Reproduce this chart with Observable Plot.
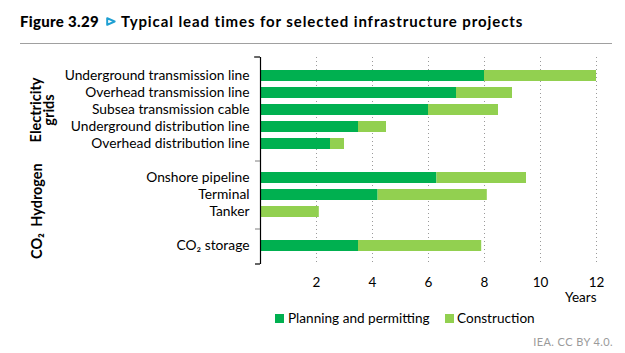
<!DOCTYPE html>
<html>
<head>
<meta charset="utf-8">
<script src="https://cdn.jsdelivr.net/npm/d3@7"></script>
<script src="https://cdn.jsdelivr.net/npm/@observablehq/plot@0.6"></script>
<style>
  html, body { margin: 0; padding: 0; background: #fff; }
  #wrap { position: relative; width: 625px; height: 353px; overflow: hidden; font-family: Lato, "Open Sans", sans-serif; }
  .abs { position: absolute; white-space: nowrap; line-height: 1; }
  #fig { left: 20px; top: 14px; font-size: 15px; font-weight: 900; letter-spacing: 0.3px; color: #000; }
  #tri { left: 106px; top: 17px; width: 10px; height: 9px; }
  #ttl { left: 121px; top: 14px; font-size: 15px; font-weight: 700; letter-spacing: 0.9px; color: #000; }
  #rule { left: 20px; top: 43px; width: 592px; height: 1px; background: #a0a0a0; }
  #chart { position: absolute; left: 0; top: 45px; }
  .sw { position: absolute; width: 9px; height: 9px; }
  .lg { font-size: 13.6px; color: #000; }
  #foot { right: 12px; top: 336px; font-size: 11px; letter-spacing: 0.4px; color: #9a9a9a; }
</style>
</head>
<body>
<div id="wrap">
  <div class="abs" id="fig">Figure 3.29</div>
  <svg class="abs" id="tri" viewBox="0 0 10 9"><polygon points="1.2,1.2 8.6,4.5 1.2,7.8" fill="none" stroke="#1e9fd2" stroke-width="2" stroke-linejoin="round"/></svg>
  <div class="abs" id="ttl">Typical lead times for selected infrastructure projects</div>
  <div class="abs" id="rule"></div>
  <div id="chart"></div>
  <div id="legend"></div>
  <div class="abs" id="foot">IEA. CC BY 4.0.</div>
</div>
<script>
// ---- data ----
const projects = [
  "Underground transmission line",
  "Overhead transmission line",
  "Subsea transmission cable",
  "Underground distribution line",
  "Overhead distribution line",
  "Onshore pipeline",
  "Terminal",
  "Tanker",
  "CO₂ storage"
];
const planning     = [8, 7, 6, 3.5, 2.5, 6.3, 4.2, 0, 3.5];
const construction = [4, 2, 2.5, 1, 0.5, 3.2, 3.9, 2.1, 4.4];
const phases = ["Planning and permitting", "Construction"];
const phaseColors = ["#00b050", "#92d050"];
const xTicks = [2, 4, 6, 8, 10, 12];
const gapRows = [" ", "  "];
const rows = [
  projects[0], projects[1], projects[2], projects[3], projects[4],
  gapRows[0],
  projects[5], projects[6], projects[7],
  gapRows[1],
  projects[8]
];
const groupNames = ["Electricity\ngrids", "Hydrogen", "CO₂"];
const groupMid = [projects[2], projects[6], projects[8]];
const xLabel = "Years";

const data = projects.flatMap((p, i) => [
  {project: p, phase: phases[0], value: planning[i]},
  {project: p, phase: phases[1], value: construction[i]}
]);

const W = 625, H = 265, mL = 260, mR = 29, mT = 12, mB = 46;

const plot = Plot.plot({
  width: W, height: H,
  marginLeft: mL, marginRight: mR, marginTop: mT, marginBottom: mB,
  x: {domain: [0, 12]},
  y: {domain: rows, paddingInner: 0.33, paddingOuter: 0.665},
  color: {domain: phases, range: phaseColors},
  style: {fontFamily: "Lato, 'Open Sans', sans-serif", fontSize: "13.8px", color: "#000", background: "transparent"},
  marks: [
    Plot.gridX(xTicks, {stroke: "#9a9a9a", strokeOpacity: 1, strokeDasharray: "1,3"}),
    Plot.barX(data, {x: "value", y: "project", fill: "phase", order: phases}),
    Plot.ruleX([0], {stroke: "#000", strokeWidth: 1.2}),
    Plot.axisX({ticks: xTicks, tickSize: 0, tickPadding: 13, label: null, fontSize: 13.5}),
    Plot.axisY({tickSize: 0, tickPadding: 11, tickFormat: d => d.trim() ? d : "", label: null, fontSize: 13.8}),
    Plot.axisY({ticks: gapRows, tickSize: 5, tickFormat: () => "", stroke: "#7f7f7f", label: null}),
    Plot.text([xLabel], {text: d => d, frameAnchor: "bottom-right", dy: 37, textAnchor: "end", fontSize: 13.5}),
    Plot.text(groupNames.slice(0, 1), {y: groupMid.slice(0, 1), text: d => d, frameAnchor: "left", textAnchor: "middle", dx: -217, rotate: -90, fontWeight: "bold", fontSize: 14.5, lineHeight: 0.9}),
    Plot.text(groupNames.slice(1), {y: groupMid.slice(1), text: d => d, frameAnchor: "left", textAnchor: "middle", dx: -223, rotate: -90, fontWeight: "bold", fontSize: 14.5})
  ]
});

// bracket ends of the category axis
const svg = d3.select(plot);
const x0 = plot.scale("x").apply(0);
[[mT, 6], [H - mB, 5]].forEach(([y, len]) => {
  svg.append("line").attr("x1", x0 - len).attr("x2", x0).attr("y1", y).attr("y2", y)
    .attr("stroke", "#000").attr("stroke-width", 1.2);
});
document.getElementById("chart").appendChild(plot);

// legend
const legend = document.getElementById("legend");
const legendPos = [[275, 288], [445, 457]];
phases.forEach((p, i) => {
  const sw = document.createElement("div");
  sw.className = "sw";
  sw.style.left = legendPos[i][0] + "px";
  sw.style.top = "314px";
  sw.style.background = phaseColors[i];
  legend.appendChild(sw);
  const t = document.createElement("div");
  t.className = "abs lg";
  t.style.left = legendPos[i][1] + "px";
  t.style.top = "311.5px";
  t.textContent = p;
  legend.appendChild(t);
});
</script>
</body>
</html>
